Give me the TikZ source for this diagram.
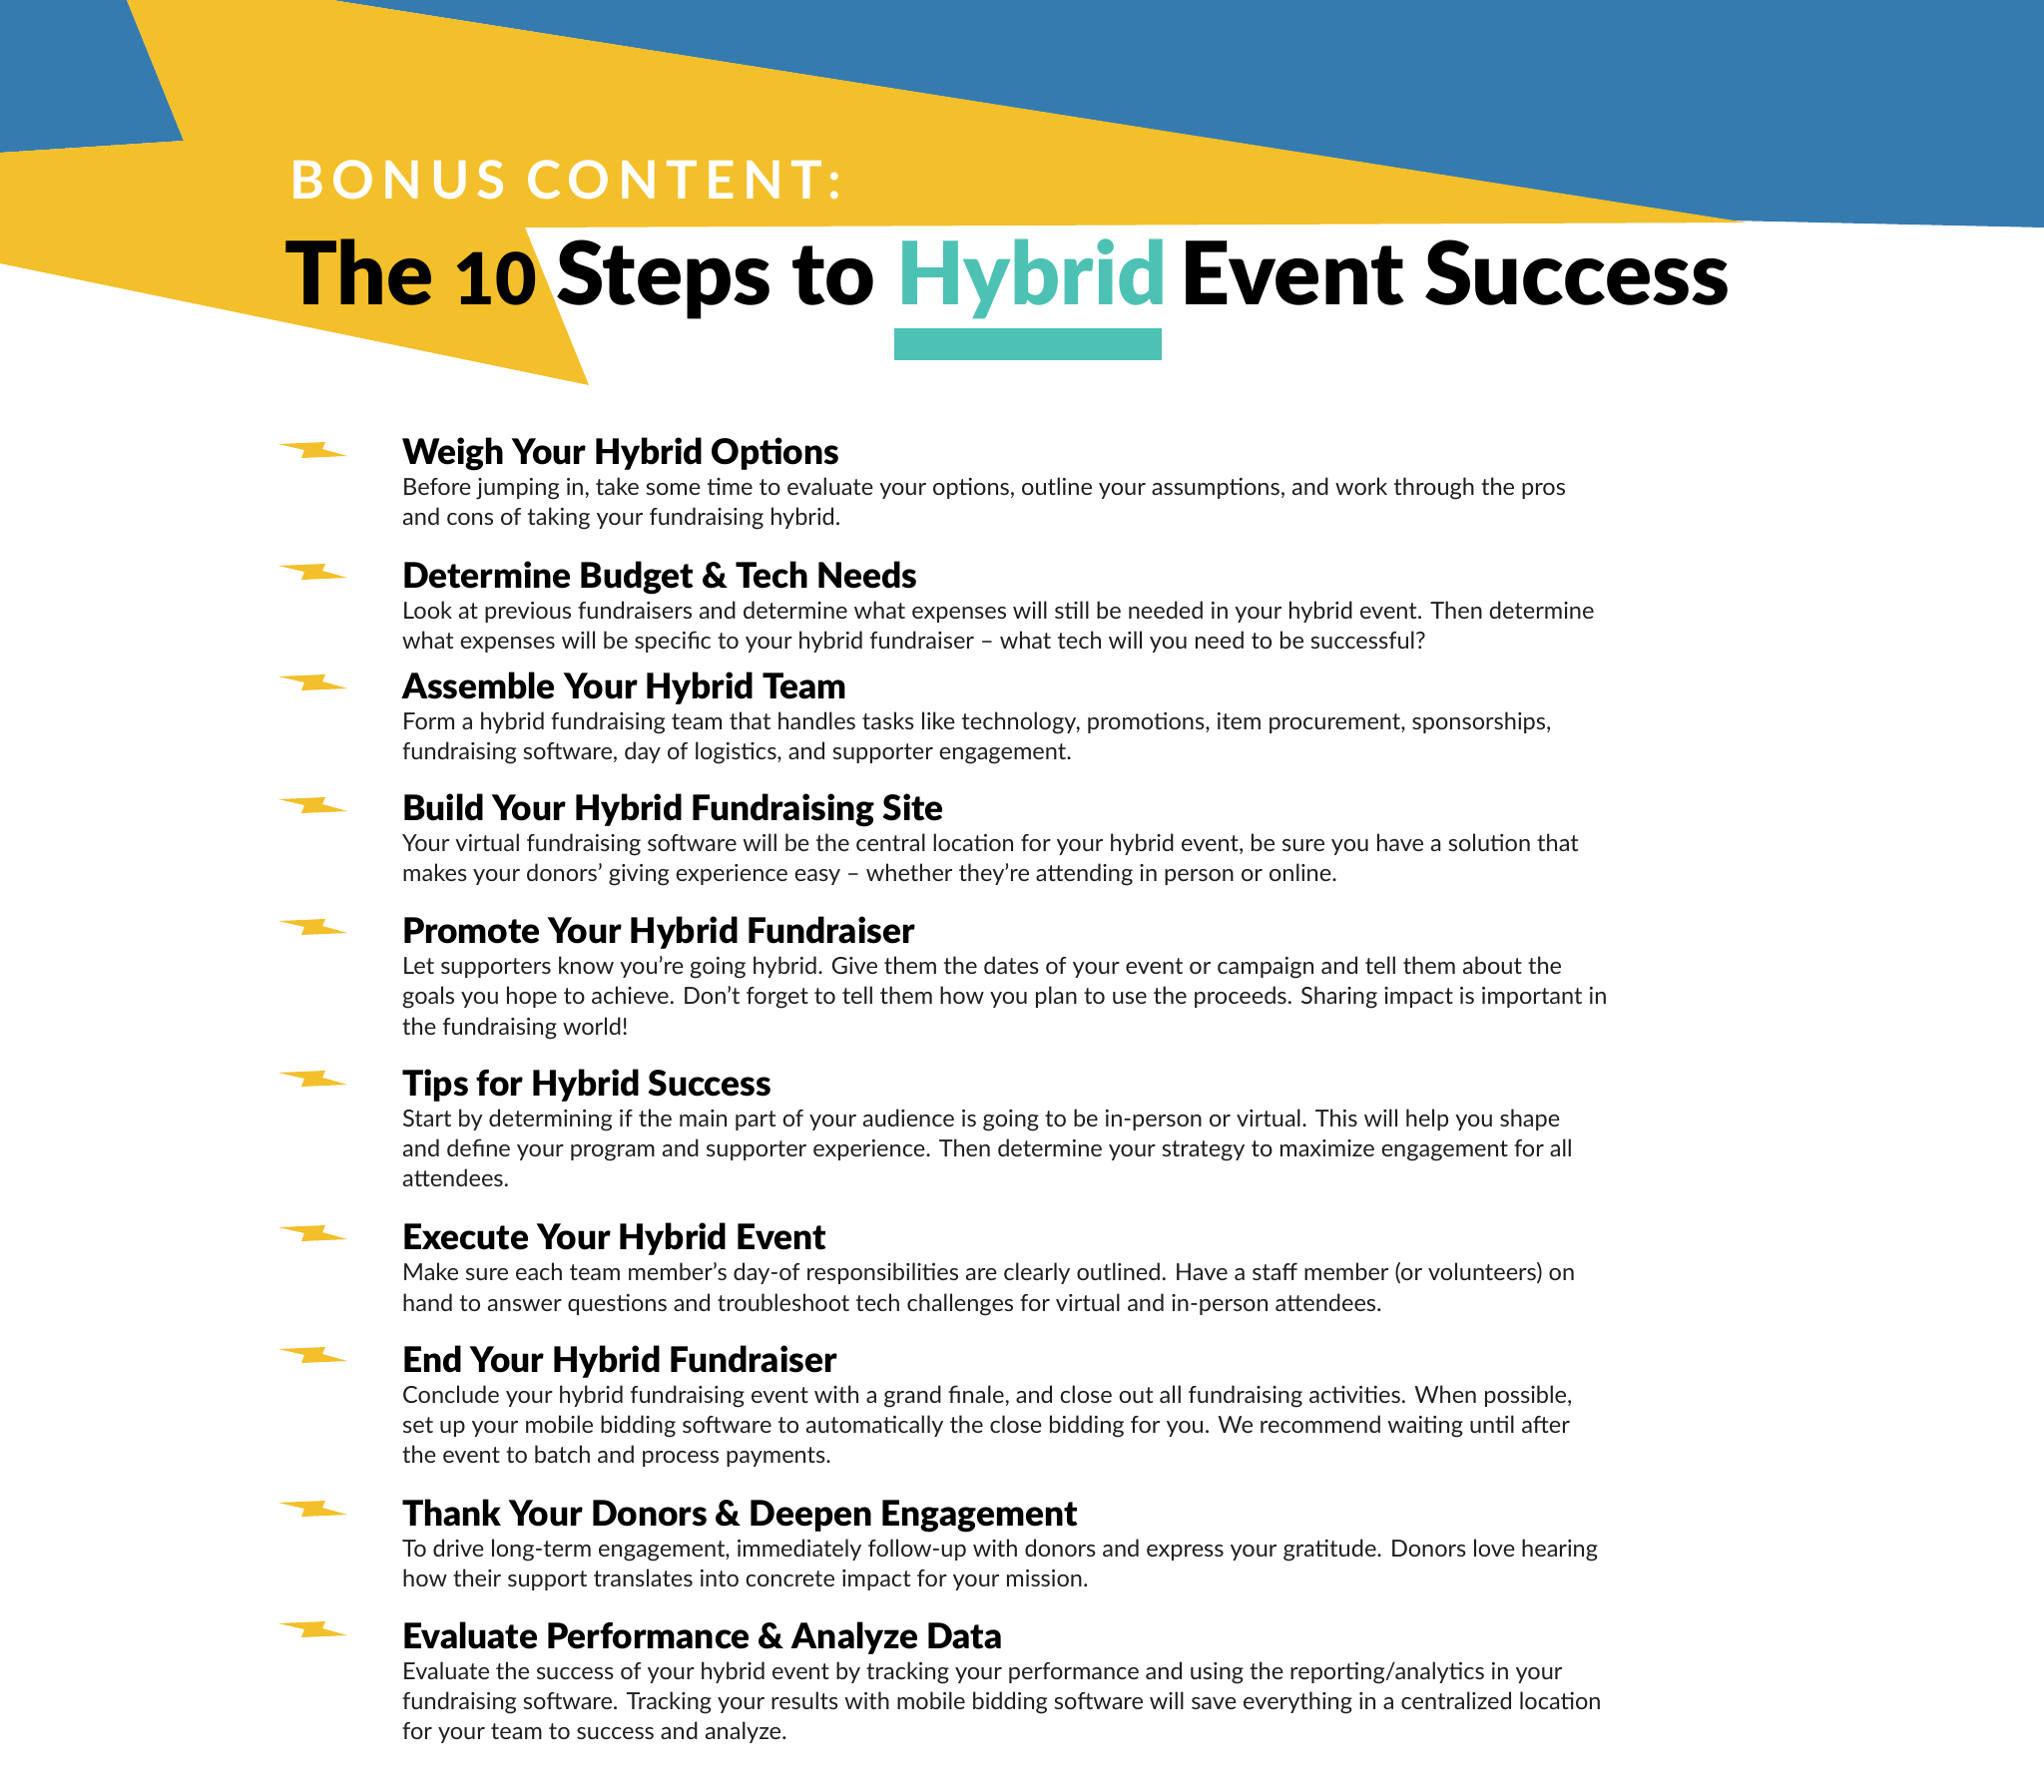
\documentclass[tikz,border=0pt]{standalone}
\usepackage{fontspec}
\usepackage{xcolor}
\usepackage{graphicx}
\setmainfont{Lato}
\newfontfamily\blackfont{Lato Black}
\definecolor{bannerblue}{HTML}{357BB0}
\definecolor{banneryellow}{HTML}{F3BF2A}
\definecolor{bannerteal}{HTML}{4DC2B4}
\tikzset{
    headline/.style={anchor=base west,inner sep=0pt,font=\blackfont\fontsize{35.2}{38}\selectfont},
    bodylines/.style={anchor=north west,inner sep=0pt,align=left,text=black!88,
        font=\fontsize{23.55}{30.2}\selectfont,execute at begin node=\strut},
    titlepart/.style={anchor=base west,inner sep=0pt,font=\blackfont\fontsize{87.5}{92}\selectfont},
    boltmark/.pic={\fill[banneryellow] (0,-20) -- (47,-22) -- (44,-15) -- (69,-8) -- (23,-6) -- (26,-14) -- cycle;}
}
\begin{document}
\begin{tikzpicture}[x=1pt,y=-1pt]
    \useasboundingbox (0,0) rectangle (2048,1796);
    \fill[white] (0,0) rectangle (2048,1796);
    \fill[bannerblue] (0,0) -- (127,0) -- (184,141) -- (0,153) -- cycle;
    \fill[bannerblue] (333,0) -- (1733,221) -- (2048,228) -- (2048,0) -- cycle;
    \fill[banneryellow] (127,0) -- (333,0) -- (1750,223) -- (526,228) -- (590,386)
        -- (0,264) -- (0,153) -- (184,141) -- cycle;
    \fill[bannerteal] (896,329) rectangle (1164,361);
    \node[anchor=base west,inner sep=0pt,text=white,font=\bfseries\fontsize{53}{56}\selectfont] (bonus) at (290,199)
        {\addfontfeature{LetterSpace=14}BONUS CONTENT:};
    \node[titlepart] (titleone) at (285,305) {The \scalebox{0.82}{10}};
    \node[titlepart] (titletwo) at (557,305) {Steps to};
    \node[titlepart,text=bannerteal] (titlethree) at (898,305) {Hybrid};
    \node[titlepart] (titlefour) at (1182,305) {Event Success};
    \foreach \i/\ybase/\ybolt/\headtext/\bodytext in {
        1/465/465/{Weigh Your Hybrid Options}/{Before jumping in, take some time to evaluate your options, outline your assumptions, and work through the pros\\and cons of taking your fundraising hybrid.},
        2/589/587/{Determine Budget \& Tech Needs}/{Look at previous fundraisers and determine what expenses will still be needed in your hybrid event. Then determine\\what expenses will be specific to your hybrid fundraiser – what tech will you need to be successful?},
        3/700/698/{Assemble Your Hybrid Team}/{Form a hybrid fundraising team that handles tasks like technology, promotions, item procurement, sponsorships,\\fundraising software, day of logistics, and supporter engagement.},
        4/822/821/{Build Your Hybrid Fundraising Site}/{Your virtual fundraising software will be the central location for your hybrid event, be sure you have a solution that\\makes your donors’ giving experience easy – whether they’re attending in person or online.},
        5/945/943/{Promote Your Hybrid Fundraiser}/{Let supporters know you’re going hybrid. Give them the dates of your event or campaign and tell them about the\\goals you hope to achieve. Don’t forget to tell them how you plan to use the proceeds. Sharing impact is important in\\the fundraising world!},
        6/1098/1095/{Tips for Hybrid Success}/{Start by determining if the main part of your audience is going to be in-person or virtual. This will help you shape\\and define your program and supporter experience. Then determine your strategy to maximize engagement for all\\attendees.},
        7/1252/1250/{Execute Your Hybrid Event}/{Make sure each team member’s day-of responsibilities are clearly outlined. Have a staff member (or volunteers) on\\hand to answer questions and troubleshoot tech challenges for virtual and in-person attendees.},
        8/1375/1372/{End Your Hybrid Fundraiser}/{Conclude your hybrid fundraising event with a grand finale, and close out all fundraising activities. When possible,\\set up your mobile bidding software to automatically the close bidding for you. We recommend waiting until after\\the event to batch and process payments.},
        9/1529/1526/{Thank Your Donors \& Deepen Engagement}/{To drive long-term engagement, immediately follow-up with donors and express your gratitude. Donors love hearing\\how their support translates into concrete impact for your mission.},
        10/1652/1647/{Evaluate Performance \& Analyze Data}/{Evaluate the success of your hybrid event by tracking your performance and using the reporting/analytics in your\\fundraising software. Tracking your results with mobile bidding software will save everything in a centralized location\\for your team to success and analyze.}} {
        \pic at (279,\ybolt) {boltmark};
        \node[headline] (head\i) at (403,\ybase) {\headtext};
        \node[bodylines] (body\i) at (403,\ybase+13.5) {\bodytext};
    }
\end{tikzpicture}
\end{document}
